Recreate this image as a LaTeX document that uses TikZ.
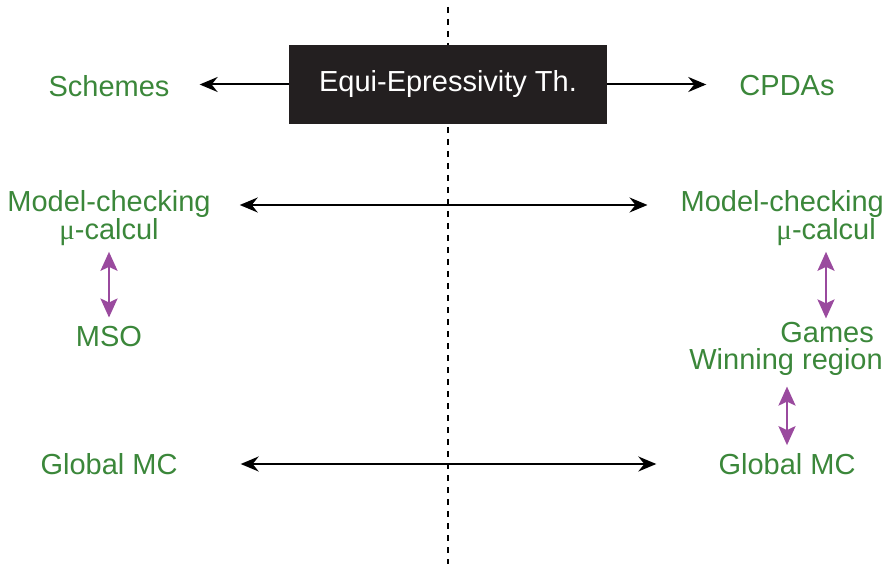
\documentclass[tikz,border=0pt]{standalone}
\usepackage{fontspec}
\setmainfont{Liberation Sans}
\newfontfamily\mufont{Liberation Serif}
\usepackage{tikz}
\usetikzlibrary{
  arrows.meta,
  positioning,
}
\definecolor{labgreen}{HTML}{3B873A}
\definecolor{linkpurple}{HTML}{9A4A9E}
\definecolor{boxfill}{HTML}{231F20}
\newcommand{\mucalc}{{\mufont μ}-calcul}

\begin{document}
\begin{tikzpicture}[
  x=1pt, y=-1pt,
  font=\fontsize{29}{26.5}\selectfont,
  label/.style={text=labgreen, inner sep=4pt, align=center},
  rlabel/.style={text=labgreen, inner sep=4pt, align=right, anchor=east},
  conn/.style={line width=2pt, {Stealth[length=18pt,width=15pt,inset=6pt]}-{Stealth[length=18pt,width=15pt,inset=6pt]}},
  oneway/.style={line width=2pt, -{Stealth[length=18pt,width=15pt,inset=6pt]}},
  link/.style={line width=2.5pt, linkpurple, {Stealth[length=19pt,width=17pt,inset=4pt]}-{Stealth[length=19pt,width=17pt,inset=4pt]}},
]
  % Page: 1pt = 1px of the reference
  \useasboundingbox (0,0) rectangle (892,564);

  % Separating line
  \coordinate (sepTop) at (448,7);
  \coordinate (sepBot) at (448,564);
  \draw[line width=2pt, dash pattern=on 6pt off 6pt] (sepTop) -- (sepBot);

  % Theorem box
  \node[fill=boxfill, text=white, minimum width=318pt, minimum height=79pt, inner sep=0pt]
    (thm) at (448,84.5) {Equi-Epressivity Th.};

  % Left column
  \node[label] (schemes) at (109,86) {Schemes};
  \node[label] (mcL) at (109,218) {Model-checking\\\mucalc};
  \node[label] (mso) at (109,337) {MSO};
  \node[label] (gmcL) at (109,464) {Global MC};

  % Right column
  \node[label] (cpdas) at (787,86) {CPDAs};
  \node[rlabel] (mcR) at (888,218) {Model-checking\\\mucalc\hspace*{8pt}};
  \node[rlabel] (games) at (887,349) {Games\hspace*{9pt}\\Winning region};
  \node[label] (gmcR) at (787,464) {Global MC};

  % Horizontal connectors
  \draw[oneway, shorten >=26pt] (thm.west) -- (thm.west -| schemes.east);
  \draw[oneway, shorten >=29pt] (thm.east) -- (thm.east -| cpdas.west);
  \draw[conn, shorten <=25pt, shorten >=29pt]
    ([yshift=13pt]mcL.east) -- ([yshift=13pt]mcR.west);
  \draw[conn, shorten <=59pt, shorten >=58pt] (gmcL.east) -- (gmcR.west);

  % Vertical links
  \draw[link, shorten <=2pt, shorten >=5pt] (mcL.south) -- (mso.north);
  \draw[link, shorten <=2pt] ([xshift=-62pt]mcR.south east) -- ([xshift=-62pt]mcR.south east |- games.north);
  \draw[link, shorten <=7pt, shorten >=4pt] (games.south -| gmcR.north) -- (gmcR.north);

\end{tikzpicture}
\end{document}
